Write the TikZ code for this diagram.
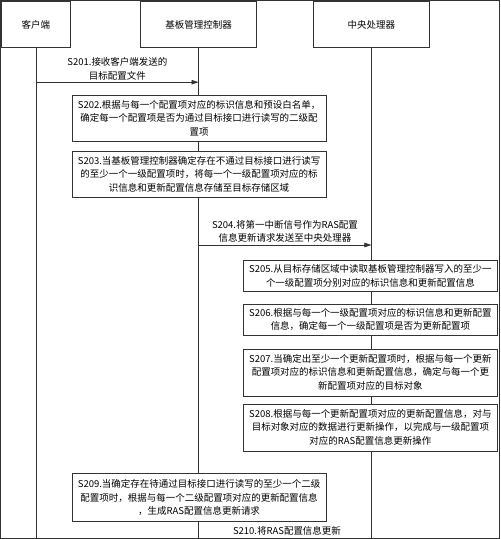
\documentclass[tikz,border=0pt]{standalone}
\usepackage{fontspec}
\setmainfont{Noto Sans CJK SC}
\usetikzlibrary{positioning, arrows.meta}

\begin{document}
\begin{tikzpicture}[
    x = 1pt, y = -1pt,
    every path/.style = {draw = black!80, line width = 0.6pt},
    font = \fontsize{9.5}{13.5}\selectfont,
    header/.style = {draw, fill = white, minimum width = 116pt, minimum height = 46pt},
    stepbox/.style = {draw, fill = white, align = center, minimum width = 254pt, inner sep = 1.5pt},
    msg/.style = {-{Triangle[length = 7pt, width = 4.5pt]}},
    msglabel/.style = {draw = none, align = center, inner sep = 2pt},
  ]
  \useasboundingbox (0,0) rectangle (500,539);

  % Lanes
  \node[header, minimum width = 69pt] (client) at (35.5,24.5) {客户端};
  \node[header] (bmc) at (198.5,24.5) {基板管理控制器};
  \node[header] (cpu) at (371.5,24.5) {中央处理器};

  \coordinate (clientEnd) at (36,539);
  \coordinate (bmcEnd) at (198.5,539);
  \coordinate (cpuEnd) at (371.5,539);
  \draw (36,47.5) coordinate (clientTop) -- (clientEnd);
  \draw (bmc.south) -- (bmcEnd);
  \draw (cpu.south) -- (cpuEnd);

  % S201
  \coordinate (s201from) at (36,82);
  \coordinate (s201to) at (198.5,82);
  \draw[msg] (s201from) -- (s201to)
    node[msglabel, midway, above] {S201.接收客户端发送的\\目标配置文件};

  % Steps on the board controller
  \node[stepbox, minimum height = 46pt] (s202) at (199,118) {%
    S202.根据与每一个配置项对应的标识信息和预设白名单，\\
    确定每一个配置项是否为通过目标接口进行读写的二级配\\
    置项};
  \node[stepbox, minimum height = 46pt] (s203) at (199,174) {%
    S203.当基板管理控制器确定存在不通过目标接口进行读写\\
    的至少一个一级配置项时，将每一个一级配置项对应的标\\
    识信息和更新配置信息存储至目标存储区域};

  % S204
  \coordinate (s204from) at (198.5,245);
  \coordinate (s204to) at (371.5,245);
  \draw[msg] (s204from) -- (s204to)
    node[msglabel, midway, above] {S204.将第一中断信号作为RAS配置\\信息更新请求发送至中央处理器};

  % Steps on the central processor
  \node[stepbox, minimum height = 31pt] (s205) at (370.5,276) {%
    S205.从目标存储区域中读取基板管理控制器写入的至少一\\
    个一级配置项分别对应的标识信息和更新配置信息};
  \node[stepbox, minimum height = 31pt] (s206) at (370.5,319.5) {%
    S206.根据与每一个一级配置项对应的标识信息和更新配置\\
    信息，确定每一个一级配置项是否为更新配置项};
  \node[stepbox, minimum height = 47pt] (s207) at (370.5,372.5) {%
    S207.当确定出至少一个更新配置项时，根据与每一个更新\\
    配置项对应的标识信息和更新配置信息，确定与每一个更\\
    新配置项对应的目标对象};
  \node[stepbox, minimum height = 47pt] (s208) at (370.5,427.5) {%
    S208.根据与每一个更新配置项对应的更新配置信息，对与\\
    目标对象对应的数据进行更新操作，以完成与一级配置项\\
    对应的RAS配置信息更新操作};

  % Back on the board controller
  \node[stepbox, minimum height = 48pt] (s209) at (199,498) {%
    S209.当确定存在待通过目标接口进行读写的至少一个二级\\
    配置项时，根据与每一个二级配置项对应的更新配置信息\\
    ，生成RAS配置信息更新请求};

  \node[msglabel] (s210) at (287,531) {S210.将RAS配置信息更新};
\end{tikzpicture}
\end{document}
